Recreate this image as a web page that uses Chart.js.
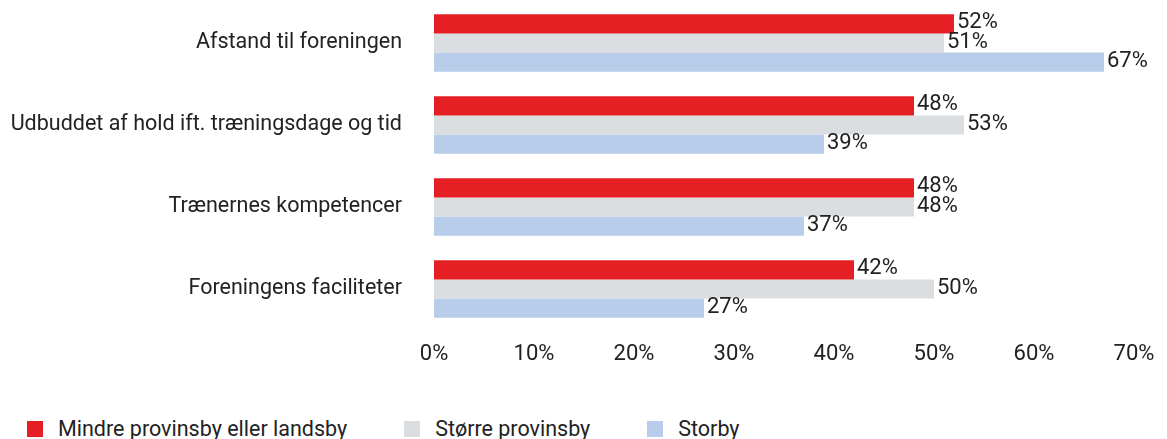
<!DOCTYPE html>
<html>
<head>
<meta charset="utf-8">
<script src="https://cdn.jsdelivr.net/npm/chart.js@4"></script>
<style>
    html, body { margin: 0; padding: 0; background: #fff; }
    #wrap { position: relative; width: 1167px; height: 439px; }
    #chart { position: absolute; left: 0; top: 0; }
    .legend { position: absolute; top: 416px; left: 27px; display: flex; font-family: Roboto, sans-serif; font-size: 21.5px; color: #222; }
    .legend .item { display: flex; align-items: center; margin-right: 57px; }
    .legend .box { width: 16px; height: 16px; margin-right: 15px; }
</style>
</head>
<body>
<div id="wrap">
    <canvas id="chart" width="1167" height="380"></canvas>
    <div class="legend" id="legend"></div>
</div>
<script>
const categories = [
    'Afstand til foreningen',
    'Udbuddet af hold ift. træningsdage og tid',
    'Trænernes kompetencer',
    'Foreningens faciliteter',
];
const seriesNames = ['Mindre provinsby eller landsby', 'Større provinsby', 'Storby'];
const smallTown = [52, 48, 48, 42];
const largerTown = [51, 53, 48, 50];
const city = [67, 39, 37, 27];
const seriesColors = ['#e42025', '#dadee1', '#b8cdea'];
const tickValues = [0, 10, 20, 30, 40, 50, 60, 70];

const FONT = 'Roboto, sans-serif';
const TEXT = '#222';

// values printed at the end of each bar
const valueLabels = {
    id: 'valueLabels',
    afterDatasetsDraw(chart) {
        const ctx = chart.ctx;
        ctx.save();
        ctx.font = `22px ${FONT}`;
        ctx.fillStyle = TEXT;
        ctx.textAlign = 'left';
        ctx.textBaseline = 'middle';
        chart.data.datasets.forEach((ds, i) => {
            chart.getDatasetMeta(i).data.forEach((bar, j) => {
                ctx.fillText(`${ds.data[j]}%`, bar.x + 3, bar.y - 1);
            });
        });
        ctx.restore();
    },
};

const allSeries = [smallTown, largerTown, city];

new Chart(document.getElementById('chart'), {
    type: 'bar',
    data: {
        labels: categories,
        datasets: allSeries.map((data, i) => ({
            label: seriesNames[i],
            data,
            backgroundColor: seriesColors[i],
            borderWidth: 0,
            categoryPercentage: 0.7,
            barPercentage: 1,
        })),
    },
    options: {
        indexAxis: 'y',
        responsive: false,
        animation: false,
        layout: { padding: { top: 2, right: 33, bottom: 0, left: 0 } },
        plugins: {
            legend: { display: false },
            tooltip: { enabled: false },
        },
        scales: {
            x: {
                min: 0,
                max: 70,
                grid: { display: false, drawTicks: false },
                border: { display: false },
                afterBuildTicks(scale) {
                    scale.ticks = tickValues.map((v) => ({ value: v }));
                },
                afterFit(scale) { scale.height = 50; },
                ticks: {
                    padding: 11,
                    maxRotation: 0,
                    minRotation: 0,
                    autoSkip: false,
                    color: TEXT,
                    font: { family: FONT, size: 22 },
                    callback: (v) => `${v}%`,
                },
            },
            y: {
                grid: { display: false, drawTicks: false },
                border: { display: false },
                afterFit(scale) {
                    scale.width = 434;
                    scale.paddingTop = 0;
                    scale.paddingBottom = 0;
                },
                ticks: {
                    padding: 32,
                    color: TEXT,
                    font: { family: FONT, size: 21.5 },
                },
            },
        },
    },
    plugins: [valueLabels],
});

const legendEl = document.getElementById('legend');
seriesNames.forEach((name, i) => {
    const item = document.createElement('div');
    item.className = 'item';
    const box = document.createElement('span');
    box.className = 'box';
    box.style.background = seriesColors[i];
    const text = document.createElement('span');
    text.textContent = name;
    item.appendChild(box);
    item.appendChild(text);
    legendEl.appendChild(item);
});
</script>
</body>
</html>
